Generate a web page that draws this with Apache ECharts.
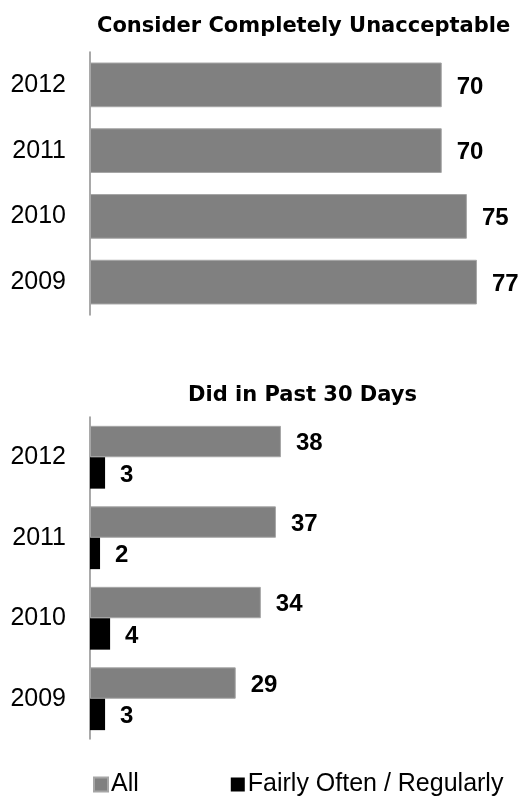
<!DOCTYPE html>
<html>
<head>
<meta charset="utf-8">
<script src="https://cdn.jsdelivr.net/npm/echarts@6/dist/echarts.min.js"></script>
<style>
  html, body { margin: 0; padding: 0; background: #fff; }
  #chart { width: 525px; height: 809px; }
</style>
</head>
<body>
<div id="chart"></div>
<script>
const years = ['2012', '2011', '2010', '2009'];
const unacceptable = [70, 70, 75, 77];
const pastAll = [38, 37, 34, 29];
const pastOften = [3, 2, 4, 3];

const myChart = echarts.init(document.getElementById('chart'));

const yearLabel = { color: '#000', fontSize: 25, fontFamily: 'Liberation Sans, Arial', margin: 24 };
const axisLine = { show: true, lineStyle: { color: '#8c8c8c', width: 1.5 } };
const valueLabel = {
    show: true,
    position: 'right',
    distance: 15,
    offset: [0, 2],
    color: '#000',
    fontSize: 24,
    fontWeight: 'bold',
    fontFamily: 'Liberation Sans, Arial'
};

myChart.setOption({
    animation: false,
    title: [
        {
            text: 'Consider Completely Unacceptable',
            left: 92,
            top: 11,
            textStyle: { fontSize: 21, fontWeight: 'bold', fontFamily: 'DejaVu Sans', color: '#000' }
        },
        {
            text: 'Did in Past 30 Days',
            left: 183,
            top: 380,
            textStyle: { fontSize: 21, fontWeight: 'bold', fontFamily: 'DejaVu Sans', color: '#000' }
        }
    ],
    legend: {
        data: ['All', 'Fairly Often / Regularly'],
        left: 88,
        top: 767,
        icon: 'rect',
        itemWidth: 14,
        itemHeight: 14,
        itemGap: 92,
        textStyle: { color: '#000', fontSize: 25, fontFamily: 'Liberation Sans, Arial', padding: [0, 0, 0, -2] }
    },
    grid: [
        { left: 90, top: 52, width: 402, height: 263 },
        { left: 90, top: 417, width: 402, height: 322 }
    ],
    xAxis: [
        { gridIndex: 0, type: 'value', min: 0, max: 80, show: false },
        { gridIndex: 1, type: 'value', min: 0, max: 80, show: false }
    ],
    yAxis: [
        {
            gridIndex: 0, type: 'category', data: years, inverse: true,
            axisLine: axisLine, axisTick: { show: false }, axisLabel: yearLabel
        },
        {
            gridIndex: 1, type: 'category', data: years, inverse: true,
            axisLine: axisLine, axisTick: { show: false }, axisLabel: yearLabel
        }
    ],
    series: [
        {
            name: 'Consider Completely Unacceptable',
            type: 'bar',
            xAxisIndex: 0,
            yAxisIndex: 0,
            data: unacceptable,
            barCategoryGap: '32%',
            itemStyle: { color: '#808080', borderColor: '#a6a6a6', borderWidth: 1 },
            label: valueLabel
        },
        {
            name: 'All',
            type: 'bar',
            xAxisIndex: 1,
            yAxisIndex: 1,
            data: pastAll,
            barGap: '0%',
            barCategoryGap: '22%',
            itemStyle: { color: '#808080', borderColor: '#a6a6a6', borderWidth: 1 },
            label: valueLabel
        },
        {
            name: 'Fairly Often / Regularly',
            type: 'bar',
            xAxisIndex: 1,
            yAxisIndex: 1,
            data: pastOften,
            barGap: '0%',
            barCategoryGap: '22%',
            itemStyle: { color: '#000' },
            label: valueLabel
        }
    ]
});
</script>
</body>
</html>
